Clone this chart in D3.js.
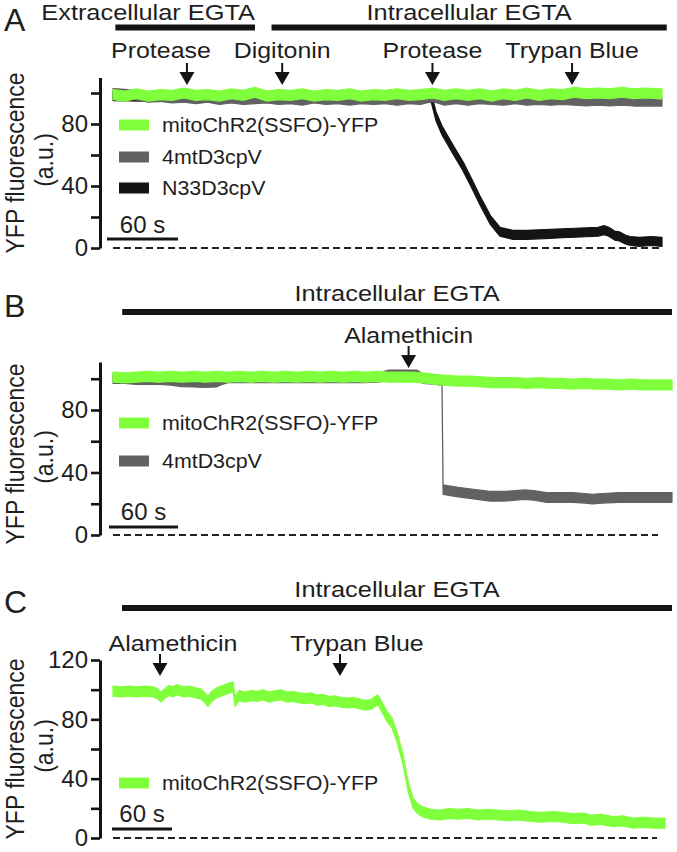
<!DOCTYPE html>
<html>
<head>
<meta charset="utf-8">
<script src="https://cdn.jsdelivr.net/npm/d3@7"></script>
<style>
  body { margin: 0; background: #fff; }
  svg { display: block; }
  text { font-family: "Liberation Sans", Arial, Helvetica, sans-serif; fill: #1e1e1e; }
</style>
</head>
<body>
<svg id="chart" width="677" height="852"></svg>
<script>
// ================= DATA =================
// Series names (legend order)
const seriesNames = ["mitoChR2(SSFO)-YFP", "4mtD3cpV", "N33D3cpV"];

// ---------- Panel A ----------
const tA = [0,10,20,30,40,50,60,70,80,90,100,110,120,130,140,150,160,170,180,190,200,210,220,230,240,250,260,270,280,290,300,310,320,330,340,350,360,370,380,390,400,410,420,430,440,450,460,464];
const greenA = [99,98,99.5,98,99,98.5,100,98.5,99,98,99.5,98.5,100.5,98,99,98.5,99.5,98,99,98.5,99.5,98,99,98.5,99.5,98.5,99,100,98.5,99.5,98.5,99.5,98,99.5,98.5,100,98.5,99.5,99,100.5,99.5,100,99.5,100.5,99.5,100,99.5,99.5];
const grayA = [100,99.5,98.5,97,97.5,96.5,97,96,97,95.5,96.5,95.5,96,96.5,95.5,96,95,96.5,95.5,96,95,96,95.5,96,95,96,95.5,97.5,95,96,95,96,95.5,95,96,95,95.5,95,95.5,95,94.5,95,94.5,95,94.5,94.5,94.5,94.5];
const tBlackA = [0,40,80,120,160,200,240,269,273,278,287,296,303,310,319,327,338,350,365,380,395,410,415,419,424,428,433,437,445,455,464];
const blackA = [98,97.5,97.5,97.5,97.5,97.5,97.5,97,85,76,64,52.5,42,31,18,10.5,8.5,8.5,9,9.5,10,10.5,11.5,10.5,8,7.5,5.5,4.5,4,4.5,4];
const eventsA = ["Protease", "Digitonin", "Protease", "Trypan Blue"];
const eventTimesA = [62.5, 143, 270, 388];
const condLabelsA = ["Extracellular EGTA", "Intracellular EGTA"];
const condStartA = [2, 134];
const condEndA = [120, 468];
const yTicksA = [0, 20, 40, 60, 80, 100];
const yTickLabelsA = ["0", "", "40", "", "80", ""];

// ---------- Panel B ----------
const tB = [0,10,20,30,40,50,60,70,80,90,100,110,120,130,140,150,160,170,180,190,200,210,220,230,240,250,260,270,280,290,300,310,320,330,340,350,360,370,380,390,400,410,420,430,440,450,460,470,480,486];
const greenB = [101,100.5,101,101.5,101,101.5,101,101.5,101,101.5,101,101.5,101,101.5,101,101.5,101,101.5,101,101.5,101,101.5,101,101.5,101,101,101,100.5,99.5,99,98.5,98.5,98,97.5,97.5,97.5,97,97.5,97,97,96.5,97,96.5,96.5,96,96.5,96,96,96,96];
const tGrayB = [0,10,20,30,40,50,60,70,80,90,95,100,120,140,160,180,200,220,232,240,250,264,270,280,286,287,300,315,328,340,350,358,366,377,390,400,410,417,425,440,460,486];
const grayB = [100,100,99.5,99.5,99.5,99,98,97.8,97.5,97.8,99.5,100.5,100.5,100.5,100.5,100.5,100.5,100.5,101,102.5,102.5,102.5,100,99.5,99,29,27.5,26,24.8,24.8,25.3,25.8,25.3,24,24,24,23.5,23,23.5,24,24,24];
const eventsB = ["Alamethicin"];
const eventTimesB = [257];
const condLabelsB = ["Intracellular EGTA"];
const condStartB = [8];
const condEndB = [486];
const yTicksB = [0, 20, 40, 60, 80, 100];
const yTickLabelsB = ["0", "", "40", "", "80", ""];

// ---------- Panel C ----------
const tC = [0,8,16,24,32,40,44,48,52,56,60,64,70,76,82,88,92,95,98,104,110,116,120,122,126,132,138,144,150,156,162,168,174,180,186,192,198,204,210,216,222,228,234,240,246,252,258,262,265,270,274,279,284,290,295,300,305,310,318,327,336,345,355,365,375,385,395,405,417,428,440,450,460,470,478,488,500,510,520,530,540,552];
const greenC = [99,98.5,99,98.5,99,98.5,97.5,95,97.5,99.5,98.5,100,98.5,99,98,97,94.5,92,95,98,99.5,101,102,92,96,95,96,95.5,96.5,95,96,96.5,95,95.5,94.5,94,94.5,93,93.5,92,92.5,91.5,91,91.5,90.5,89.5,90,92,93,87,82,77.5,68,53,35,23.5,19.5,17.5,16,15.5,16.5,16,16.5,15.5,16,15.5,15,15.5,14.5,14,14.5,14,13,13.5,12,12.5,11,11.5,10,10.5,10,10];
const eventsC = ["Alamethicin", "Trypan Blue"];
const eventTimesC = [47, 227];
const condLabelsC = ["Intracellular EGTA"];
const condStartC = [9];
const condEndC = [559];
const yTicksC = [0, 20, 40, 60, 80, 100, 120];
const yTickLabelsC = ["0", "", "40", "", "80", "", "120"];

const scaleBarSeconds = 60;

// ================= STYLE / LAYOUT =================
const COLORS = { green: "#80ff3c", gray: "#626262", black: "#141414" };
const INK = "#141414";
const svg = d3.select("#chart");

function addText(g, s, x, y, o) {
  const t = g.append("text")
    .attr("transform", `translate(${x},${y}) scale(${o.sx || 1},1)` + (o.rotate ? ` rotate(${o.rotate})` : ""))
    .attr("text-anchor", o.anchor || "start")
    .style("font-size", o.size + "px")
    .text(s);
  if (o.dy) t.attr("dy", o.dy);
  return t;
}

const panels = [
  {
    letter: "A", letterY: 31,
    xDomain: [0, 464], xRange: [113, 662],
    yDomain: [0, 110], yRange: [248, 77.5],
    yTicks: yTicksA, yTickLabels: yTickLabelsA,
    conds: condLabelsA.map((l, i) => ({ label: l, s: condStartA[i], e: condEndA[i], anchor: i === 0 ? "end" : "middle" })),
    condTextY: 20, condBarY: 27.5,
    events: eventsA.map((l, i) => ({ label: l, t: eventTimesA[i], dx: i === 0 ? -26 : 0 })),
    eventTextY: 58, arrowTip: 85,
    series: [
      { name: seriesNames[2], t: tBlackA, v: blackA, color: COLORS.black, hw: 4.5 },
      { name: seriesNames[1], t: tA, v: grayA, color: COLORS.gray, hw: 4.5 },
      { name: seriesNames[0], t: tA, v: greenA, color: COLORS.green, hw: 5 }
    ],
    legendY: [125, 157, 188],
    barX0: 107, barY: 239, barTextY: 233,
    ylabY: 163, auY: 160, dashEnd: 660
  },
  {
    letter: "B", letterY: 317,
    xDomain: [0, 486], xRange: [113, 672],
    yDomain: [0, 110.7], yRange: [535, 362],
    yTicks: yTicksB, yTickLabels: yTickLabelsB,
    conds: condLabelsB.map((l, i) => ({ label: l, s: condStartB[i], e: condEndB[i], anchor: "middle" })),
    condTextY: 301, condBarY: 312,
    events: eventsB.map((l, i) => ({ label: l, t: eventTimesB[i], dx: 0 })),
    eventTextY: 343, arrowTip: 368,
    series: [
      { name: seriesNames[1], t: tGrayB, v: grayB, color: COLORS.gray, hw: 4.8 },
      { name: seriesNames[0], t: tB, v: greenB, color: COLORS.green, hw: 5 }
    ],
    legendY: [423, 461],
    barX0: 109, barY: 527, barTextY: 520,
    ylabY: 454, auY: 457, dashEnd: 658
  },
  {
    letter: "C", letterY: 613,
    xDomain: [0, 552], xRange: [113, 665],
    yDomain: [0, 120], yRange: [838, 660],
    yTicks: yTicksC, yTickLabels: yTickLabelsC,
    conds: condLabelsC.map((l, i) => ({ label: l, s: condStartC[i], e: condEndC[i], anchor: "middle" })),
    condTextY: 597, condBarY: 608,
    events: eventsC.map((l, i) => ({ label: l, t: eventTimesC[i], dx: i === 0 ? 13 : 17 })),
    eventTextY: 651, arrowTip: 676,
    series: [
      { name: seriesNames[0], t: tC, v: greenC, color: COLORS.green, hw: 5 }
    ],
    legendY: [783],
    barX0: 112, barY: 829, barTextY: 822,
    ylabY: 749, auY: 746, dashEnd: 657
  }
];

panels.forEach(p => {
  const g = svg.append("g");
  const x = d3.scaleLinear().domain(p.xDomain).range(p.xRange);
  const y = d3.scaleLinear().domain(p.yDomain).range(p.yRange);

  // panel letter
  addText(g, p.letter, 4, p.letterY, { size: 32 });

  // condition bars + labels
  p.conds.forEach(c => {
    g.append("line")
      .attr("x1", x(c.s)).attr("x2", x(c.e))
      .attr("y1", p.condBarY).attr("y2", p.condBarY)
      .attr("stroke", INK).attr("stroke-width", 6);
    const tx = c.anchor === "end" ? x(c.e) : (x(c.s) + x(c.e)) / 2;
    addText(g, c.label, tx, p.condTextY, { size: 21.5, sx: 1.18, anchor: c.anchor });
  });

  // events: labels + arrows
  p.events.forEach(ev => {
    const ax = x(ev.t);
    addText(g, ev.label, ax + ev.dx, p.eventTextY, { size: 21.5, sx: 1.16, anchor: "middle" });
    const tip = p.arrowTip, top = tip - 22, mid = tip - 13;
    g.append("path")
      .attr("d", `M${ax - 1},${top} L${ax + 1},${top} L${ax + 1},${mid} L${ax + 7.5},${mid} L${ax},${tip} L${ax - 7.5},${mid} L${ax - 1},${mid} Z`)
      .attr("fill", INK);
  });

  // dashed zero line
  g.append("line")
    .attr("x1", x(0)).attr("x2", p.dashEnd)
    .attr("y1", y(0)).attr("y2", y(0))
    .attr("stroke", "#222").attr("stroke-width", 2)
    .attr("stroke-dasharray", "7,4");

  // traces (bands)
  p.series.forEach(s => {
    const pts = s.t.map((t, i) => [t, s.v[i]]);
    const area = d3.area()
      .x(d => x(d[0]))
      .y0(d => y(d[1]) + s.hw)
      .y1(d => y(d[1]) - s.hw);
    g.append("path")
      .attr("d", area(pts))
      .attr("fill", s.color)
      .attr("stroke", s.color)
      .attr("stroke-width", 1.2)
      .attr("stroke-linejoin", "round");
  });

  // y axis
  const axis = d3.axisLeft(y)
    .tickValues(p.yTicks)
    .tickFormat((d, i) => p.yTickLabels[i])
    .tickSize(9).tickSizeOuter(0).tickPadding(3);
  const ag = g.append("g").attr("transform", "translate(100,0)").call(axis);
  ag.select(".domain").attr("stroke", INK).attr("stroke-width", 3);
  ag.selectAll(".tick line").attr("stroke", INK).attr("stroke-width", 2.6);
  ag.selectAll(".tick text")
    .style("font-size", "24px")
    .style("font-family", '"Liberation Sans", Arial, sans-serif')
    .attr("fill", "#1e1e1e");

  // y label
  addText(g, "YFP fluorescence", 24, p.ylabY, { size: 23, sx: 1.1, rotate: -90, anchor: "middle" });
  addText(g, "(a.u.)", 53, p.auY, { size: 23, sx: 1.15, rotate: -90, anchor: "middle" });

  // legend (in seriesNames order, only series present in this panel)
  const legendSeries = seriesNames
    .map(n => p.series.find(s => s.name === n))
    .filter(Boolean);
  legendSeries.forEach((s, k) => {
    const ly = p.legendY[k];
    g.append("rect")
      .attr("x", 119).attr("y", ly - 5.5).attr("width", 30).attr("height", 11)
      .attr("fill", s.color);
    addText(g, s.name, 162, ly, { size: 20, sx: 1.07, dy: "0.35em" });
  });

  // scale bar
  const barLen = x(scaleBarSeconds) - x(0);
  g.append("line")
    .attr("x1", p.barX0).attr("x2", p.barX0 + barLen)
    .attr("y1", p.barY).attr("y2", p.barY)
    .attr("stroke", INK).attr("stroke-width", 3);
  addText(g, scaleBarSeconds + " s", p.barX0 + barLen / 2, p.barTextY, { size: 24, anchor: "middle" });
});
</script>
</body>
</html>
